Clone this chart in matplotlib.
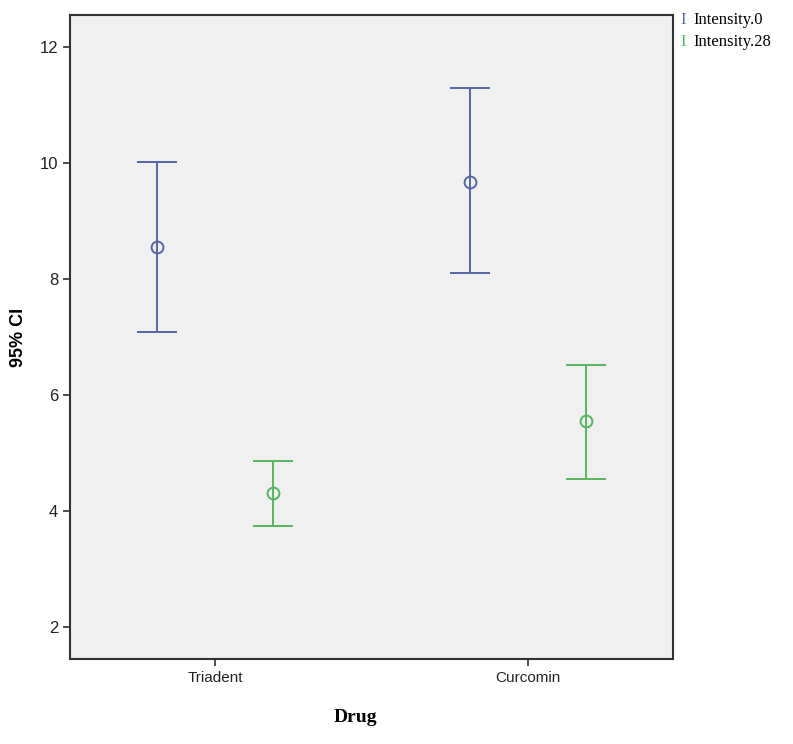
import matplotlib
matplotlib.use("Agg")
import matplotlib.pyplot as plt
import numpy as np

categories = ["Triadent", "Curcomin"]
series = ["Intensity.0", "Intensity.28"]
means = {"Intensity.0": [8.55, 9.68], "Intensity.28": [4.32, 5.56]}
lower = {"Intensity.0": [7.08, 8.10], "Intensity.28": [3.75, 4.56]}
upper = {"Intensity.0": [10.01, 11.29], "Intensity.28": [4.87, 6.51]}
colors = {"Intensity.0": "#5565a8", "Intensity.28": "#55b85a"}
offsets = {"Intensity.0": -0.184, "Intensity.28": 0.184}
yticks = [2, 4, 6, 8, 10, 12]

fig = plt.figure(figsize=(7.93, 7.44), dpi=100)
ax = fig.add_axes([0.0883, 0.1142, 0.7604, 0.8656])
ax.set_facecolor("#f0f0f0")

x = np.arange(len(categories))
for s in series:
    m = np.array(means[s]); lo = np.array(lower[s]); hi = np.array(upper[s])
    ax.errorbar(x + offsets[s], m, yerr=[m - lo, hi - m], fmt='o', color=colors[s],
                mfc='none', mec=colors[s], ms=8.5, mew=1.4, ecolor=colors[s],
                elinewidth=1.4, capsize=14.5, capthick=1.4)

ax.set_xlim(-0.463, 1.463)
ax.set_ylim(1.45, 12.55)
ax.set_xticks(x)
ax.set_xticklabels(categories, fontsize=11, family="Liberation Sans", color="#222222")
ax.set_yticks(yticks)
ax.set_yticklabels([str(t) for t in yticks], fontsize=12, family="Liberation Sans", color="#222222")
ax.tick_params(direction='out', length=5, width=1.2, color="#333333")
for sp in ax.spines.values():
    sp.set_color("#333333"); sp.set_linewidth(1.5)

fig.text(0.023, 1 - 337/744, "95% CI", rotation=90, fontsize=13, fontweight='bold',
         family="Liberation Sans", ha='center', va='center')
fig.text(355/793, 1 - 717/744, "Drug", fontsize=14, fontweight='bold',
         family="Liberation Serif", ha='center', va='center')

for i, s in enumerate(series):
    yy = 1 - (20 + 22 * i) / 744
    fig.text(680/793, yy, "I", color=colors[s], fontsize=12, family="Liberation Serif", va='center')
    fig.text(693/793, yy, s, color="black", fontsize=12, family="Liberation Serif", va='center')

fig.savefig("out.png", dpi=100)
